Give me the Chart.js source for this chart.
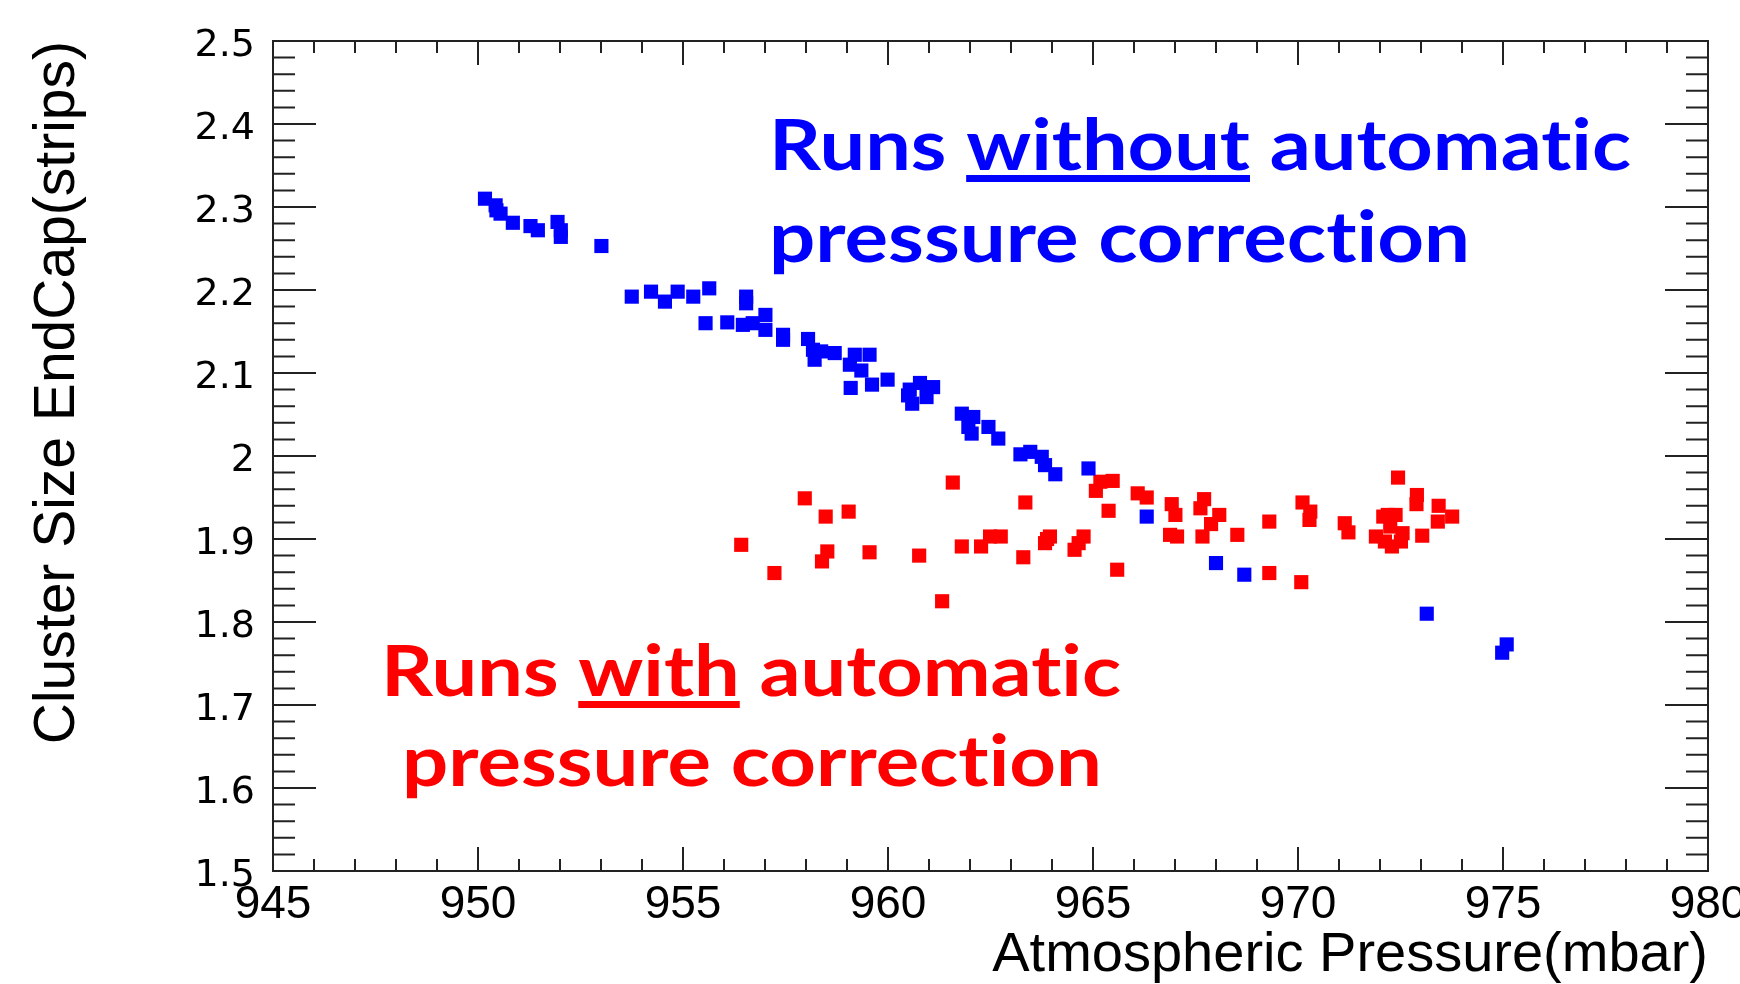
<!DOCTYPE html>
<html>
<head>
<meta charset="utf-8">
<title>Cluster size vs atmospheric pressure</title>
<script src="https://cdn.jsdelivr.net/npm/chart.js@4.4.1/dist/chart.umd.min.js"></script>
<style>
  html, body { margin: 0; padding: 0; background: #fff; }
  canvas { display: block; }
</style>
</head>
<body>
<canvas id="pressureChart" width="1740" height="984"></canvas>
<script>
// Runs without automatic pressure correction (blue)
const pressureWithout = [
    950.17, 950.43, 950.45, 950.55, 950.85, 951.28, 951.46, 951.94, 952.02, 952.02,
    953.01, 953.75, 954.22, 954.56, 954.87, 955.25, 955.64, 955.55, 956.08, 956.46,
    956.54, 956.54, 956.70, 957.01, 957.01, 957.44, 957.44, 958.05, 958.17, 958.21,
    958.37, 958.70, 959.19, 959.55, 959.07, 959.35, 959.09, 959.61, 959.99, 960.53,
    960.78, 961.10, 960.59, 960.94, 960.49, 961.80, 962.08, 961.96, 962.04, 962.45,
    962.69, 963.23, 963.47, 963.75, 963.83, 964.08, 964.89, 966.31, 968.00, 968.69,
    973.14, 975.09, 974.98
];
const clusterWithout = [
    2.310, 2.302, 2.296, 2.292, 2.281, 2.277, 2.272, 2.282, 2.272, 2.264,
    2.253, 2.192, 2.198, 2.186, 2.198, 2.192, 2.202, 2.160, 2.161, 2.158,
    2.192, 2.184, 2.160, 2.170, 2.152, 2.146, 2.140, 2.141, 2.128, 2.116,
    2.126, 2.124, 2.122, 2.122, 2.110, 2.103, 2.082, 2.086, 2.092, 2.080,
    2.088, 2.083, 2.063, 2.071, 2.073, 2.051, 2.047, 2.035, 2.027, 2.035,
    2.021, 2.002, 2.005, 1.999, 1.989, 1.978, 1.985, 1.927, 1.871, 1.857,
    1.810, 1.773, 1.763
];

// Runs with automatic pressure correction (red)
const pressureWith = [
    956.42, 957.23, 957.97, 958.48, 959.04, 958.52, 958.39, 959.55, 960.76, 961.32,
    961.58, 961.80, 962.27, 962.49, 962.75, 963.35, 963.30, 963.88, 963.95, 963.83,
    964.77, 964.65, 964.55, 965.18, 965.48, 965.07, 965.38, 965.59, 966.09, 966.31,
    966.92, 967.01, 966.88, 967.05, 967.71, 967.62, 968.08, 967.88, 967.67, 968.52,
    969.30, 969.30, 970.08, 970.11, 970.30, 970.28, 971.14, 971.23, 972.44, 972.08,
    972.19, 972.38, 972.25, 971.90, 972.12, 972.29, 972.51, 972.55, 972.90, 972.89,
    973.43, 973.41, 973.76, 973.03
];
const clusterWith = [
    1.893, 1.859, 1.949, 1.927, 1.933, 1.885, 1.873, 1.884, 1.880, 1.825,
    1.968, 1.891, 1.891, 1.903, 1.903, 1.944, 1.878, 1.900, 1.903, 1.895,
    1.903, 1.895, 1.887, 1.969, 1.970, 1.958, 1.934, 1.863, 1.955, 1.950,
    1.942, 1.929, 1.905, 1.903, 1.948, 1.937, 1.929, 1.918, 1.903, 1.905,
    1.921, 1.859, 1.848, 1.944, 1.933, 1.923, 1.919, 1.908, 1.974, 1.927,
    1.929, 1.929, 1.915, 1.903, 1.897, 1.891, 1.897, 1.907, 1.953, 1.942,
    1.940, 1.921, 1.927, 1.904
];

// Axis ranges and tick spacing
const xMin = 945, xMax = 980, xStep = 5, xMinorStep = 1;
const yMin = 1.5, yMax = 2.5, yStep = 0.1, yMinorStep = 0.02;

const xTitle = 'Atmospheric Pressure(mbar)';
const yTitle = 'Cluster Size EndCap(strips)';

// Text notes drawn on the pad
const notes = [
    { color: '#0000ff', left: 769, base: 170, pre: 'Runs ', word: 'without', post: ' automatic', width: 862 },
    { color: '#0000ff', left: 769, base: 262, pre: 'pressure correction', word: '', post: '', width: 701 },
    { color: '#ff0000', left: 381, base: 696, pre: 'Runs ', word: 'with', post: ' automatic', width: 740 },
    { color: '#ff0000', left: 402, base: 786, pre: 'pressure correction', word: '', post: '', width: 700 }
];

function toPoints(xs, ys) {
    return xs.map((x, i) => ({ x: x, y: ys[i] }));
}

// keep "t" and "i" apart (Lato would join them into a ligature)
function noLigature(s) {
    return s.replace(/ti/g, 't\u200Ci');
}

// Frame with inward ticks on all four sides (ROOT style)
const frameTicks = {
    id: 'frameTicks',
    afterDatasetsDraw(chart) {
        const { ctx, chartArea: a, scales: { x, y } } = chart;
        ctx.save();
        ctx.strokeStyle = '#222';
        ctx.lineWidth = 2;
        ctx.beginPath();

        const nx = Math.round((xMax - xMin) / xMinorStep);
        const xEvery = Math.round(xStep / xMinorStep);
        for (let i = 1; i < nx; i++) {
            const px = x.getPixelForValue(xMin + i * xMinorStep);
            const len = i % xEvery === 0 ? 24 : 12;
            ctx.moveTo(px, a.bottom);
            ctx.lineTo(px, a.bottom - len);
            ctx.moveTo(px, a.top);
            ctx.lineTo(px, a.top + len);
        }

        const ny = Math.round((yMax - yMin) / yMinorStep);
        const yEvery = Math.round(yStep / yMinorStep);
        for (let i = 1; i < ny; i++) {
            const py = y.getPixelForValue(yMin + i * yMinorStep);
            const len = i % yEvery === 0 ? 43 : 22;
            ctx.moveTo(a.left, py);
            ctx.lineTo(a.left + len, py);
            ctx.moveTo(a.right, py);
            ctx.lineTo(a.right - len, py);
        }
        ctx.stroke();
        ctx.strokeRect(a.left, a.top, a.right - a.left, a.bottom - a.top);
        ctx.restore();
    }
};

// Coloured notes with the key word underlined
const notesPlugin = {
    id: 'notes',
    afterDraw(chart) {
        const ctx = chart.ctx;
        ctx.save();
        ctx.font = 'bold 70px Lato, "Open Sans", sans-serif';
        ctx.textBaseline = 'alphabetic';
        ctx.textAlign = 'left';
        notes.forEach(n => {
            const pre = noLigature(n.pre);
            const word = noLigature(n.word);
            const full = pre + word + noLigature(n.post);
            const sx = n.width / ctx.measureText(full).width;
            ctx.save();
            ctx.translate(n.left, n.base);
            ctx.scale(sx, 1);
            ctx.fillStyle = n.color;
            ctx.fillText(full, 0, 0);
            if (word) {
                const x0 = ctx.measureText(pre).width;
                const w = ctx.measureText(word).width;
                ctx.fillRect(x0, 5, w, 7);
            }
            ctx.restore();
        });
        ctx.restore();
    }
};

function createPressureChart() {
    const ctx = document.getElementById('pressureChart');

    return new Chart(ctx, {
        type: 'scatter',
        data: {
            datasets: [
                {
                    label: 'Runs without automatic pressure correction',
                    data: toPoints(pressureWithout, clusterWithout),
                    backgroundColor: '#0000ff',
                    borderWidth: 0,
                    pointStyle: 'rect',
                    pointRadius: 10,
                    pointHoverRadius: 10
                },
                {
                    label: 'Runs with automatic pressure correction',
                    data: toPoints(pressureWith, clusterWith),
                    backgroundColor: '#ff0000',
                    borderWidth: 0,
                    pointStyle: 'rect',
                    pointRadius: 10,
                    pointHoverRadius: 10
                }
            ]
        },
        options: {
            responsive: false,
            animation: false,
            events: [],
            layout: {
                padding: { top: 41, right: 32, bottom: 0, left: 0 }
            },
            plugins: {
                legend: { display: false },
                tooltip: { enabled: false }
            },
            scales: {
                x: {
                    type: 'linear',
                    position: 'bottom',
                    min: xMin,
                    max: xMax,
                    grid: { display: false, drawTicks: false },
                    border: { display: false },
                    ticks: {
                        stepSize: xStep,
                        autoSkip: false,
                        maxRotation: 0,
                        padding: 7,
                        color: '#000',
                        font: { family: '"Liberation Sans", Arial, sans-serif', size: 46 }
                    },
                    title: {
                        display: true,
                        text: xTitle,
                        align: 'end',
                        color: '#000',
                        padding: { top: 0, bottom: 0 },
                        font: { family: '"Liberation Sans", Arial, sans-serif', size: 56, lineHeight: 1 }
                    },
                    afterFit(scale) {
                        scale.height = 113;
                        scale.paddingLeft = 0;
                        scale.paddingRight = 0;
                    }
                },
                y: {
                    type: 'linear',
                    position: 'left',
                    min: yMin,
                    max: yMax,
                    grid: { display: false, drawTicks: false },
                    border: { display: false },
                    ticks: {
                        stepSize: yStep,
                        autoSkip: false,
                        padding: 18,
                        labelOffset: 5,
                        color: '#000',
                        font: { family: '"DejaVu Sans", sans-serif', size: 38 },
                        callback: v => String(Number(v.toFixed(1)))
                    },
                    title: {
                        display: true,
                        text: yTitle,
                        align: 'end',
                        color: '#000',
                        padding: { top: 30, bottom: 0 },
                        font: { family: '"Liberation Sans", Arial, sans-serif', size: 57, lineHeight: 1 }
                    },
                    afterFit(scale) {
                        scale.width = 273;
                    }
                }
            }
        },
        plugins: [frameTicks, notesPlugin]
    });
}

document.addEventListener('DOMContentLoaded', () => {
    createPressureChart();
});
</script>
</body>
</html>
